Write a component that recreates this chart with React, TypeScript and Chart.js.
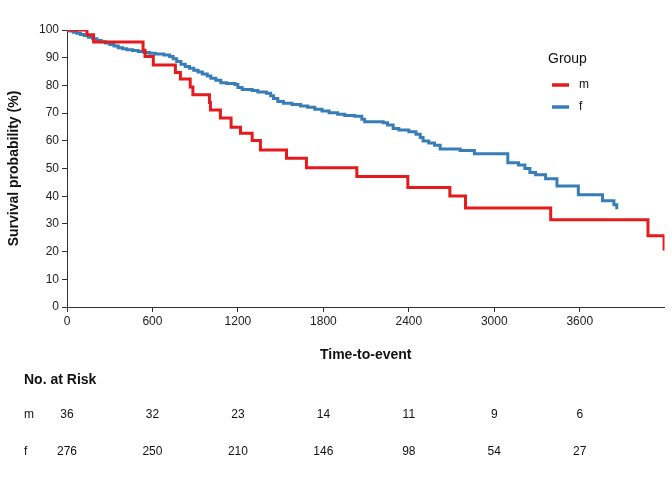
import { useEffect, useRef } from 'react';
import Chart from 'chart.js/auto';

// Kaplan-Meier estimates (time, survival %)
const mTime = [0, 140, 187, 534, 548, 606, 761, 796, 865, 884, 1000, 1007, 1077, 1152, 1218, 1300, 1358, 1541, 1681, 2035, 2393, 2688, 2798, 3396, 4079, 4192];
const mSurv = [100, 98.3, 95.7, 92.7, 90.4, 87.4, 84.7, 82.3, 79.4, 76.6, 73.8, 71.1, 68.2, 64.9, 62.7, 60.1, 56.7, 53.7, 50.3, 47.1, 43.1, 40.1, 35.7, 31.5, 25.7, 20.4];

const fTime = [0, 20, 45, 70, 95, 120, 150, 180, 210, 240, 270, 300, 330, 360, 390, 420, 460, 500, 540, 580, 620, 680, 720, 745, 770, 800, 830, 860, 890, 920, 950, 985, 1010, 1045, 1080, 1120, 1180, 1200, 1230, 1300, 1340, 1400, 1430, 1450, 1480, 1520, 1580, 1640, 1690, 1740, 1790, 1840, 1900, 1950, 2020, 2070, 2090, 2220, 2250, 2290, 2330, 2400, 2450, 2480, 2500, 2540, 2580, 2620, 2760, 2860, 3095, 3170, 3215, 3250, 3290, 3360, 3440, 3590, 3760, 3840, 3860];
const fSurv = [100, 99.6, 99.2, 98.8, 98.4, 98.0, 97.4, 96.8, 96.2, 95.8, 95.3, 94.8, 94.2, 93.6, 93.2, 92.9, 92.6, 92.2, 91.9, 91.6, 91.3, 91.0, 90.4, 89.6, 88.6, 87.6, 86.8, 86.2, 85.5, 84.8, 84.1, 83.4, 82.6, 81.9, 81.0, 80.7, 80.3, 79.2, 78.5, 78.2, 77.6, 77.2, 76.3, 75.3, 74.2, 73.6, 73.1, 72.6, 72.1, 71.4, 70.8, 70.1, 69.6, 69.1, 68.9, 67.8, 66.9, 66.5, 65.7, 64.4, 63.9, 63.3, 62.4, 61.2, 59.9, 59.2, 58.4, 57.0, 56.5, 55.3, 52.1, 51.3, 50.0, 48.6, 47.7, 46.3, 43.7, 40.5, 38.4, 36.9, 35.3];

const xTicks = [0, 600, 1200, 1800, 2400, 3000, 3600];
const groups = ['m', 'f'];
const riskM = [36, 32, 23, 14, 11, 9, 6];
const riskF = [276, 250, 210, 146, 98, 54, 27];

const RED = '#E41A1C';
const BLUE = '#377EB8';
const FONT = "'Liberation Sans', Arial, sans-serif";

const toPoints = (t: number[], s: number[]) => t.map((x, i) => ({ x, y: s[i] }));

// legend + risk table drawn on the canvas
const extrasPlugin = {
  id: 'kmExtras',
  afterDraw(chart: Chart) {
    const { ctx } = chart;
    const xs = chart.scales.x;
    ctx.save();
    ctx.fillStyle = '#111';
    ctx.textBaseline = 'middle';

    // legend
    ctx.font = `14px ${FONT}`;
    ctx.textAlign = 'left';
    ctx.fillText('Group', 548, 59);
    ctx.font = `12px ${FONT}`;
    [RED, BLUE].forEach((c, i) => {
      const y = 85 + i * 22;
      ctx.strokeStyle = c;
      ctx.lineWidth = 3.5;
      ctx.beginPath();
      ctx.moveTo(552, y);
      ctx.lineTo(569, y);
      ctx.stroke();
      ctx.fillText(groups[i], 579, y);
    });

    // risk table
    ctx.font = `bold 14px ${FONT}`;
    ctx.fillText('No. at Risk', 24, 380);
    ctx.font = `12px ${FONT}`;
    [riskM, riskF].forEach((row, r) => {
      const y = 415 + r * 37;
      ctx.textAlign = 'left';
      ctx.fillText(groups[r], 24, y);
      ctx.textAlign = 'center';
      row.forEach((n, i) => ctx.fillText(String(n), xs.getPixelForValue(xTicks[i]), y));
    });
    ctx.restore();
  },
};

const KMChart = () => {
  const chartRef = useRef<HTMLCanvasElement>(null);
  const chartInstance = useRef<Chart<'line'> | null>(null);

  useEffect(() => {
    if (!chartRef.current) return;
    const ctx = chartRef.current.getContext('2d');
    if (!ctx) return;

    if (chartInstance.current) {
      chartInstance.current.destroy();
    }

    chartInstance.current = new Chart(ctx, {
      type: 'line',
      data: {
        datasets: [
          {
            label: 'm',
            data: toPoints(mTime, mSurv),
            borderColor: RED,
            borderWidth: 3,
            stepped: true,
            pointRadius: 0,
            fill: false,
          },
          {
            label: 'f',
            data: toPoints(fTime, fSurv),
            borderColor: BLUE,
            borderWidth: 3,
            stepped: true,
            pointRadius: 0,
            fill: false,
          },
        ],
      },
      options: {
        responsive: true,
        maintainAspectRatio: false,
        animation: false,
        layout: { padding: { left: 6, top: 30, right: 7.5, bottom: 116 } },
        plugins: {
          legend: { display: false },
          tooltip: { enabled: false },
        },
        scales: {
          x: {
            type: 'linear',
            min: 0,
            max: 4195,
            afterBuildTicks: (scale) => {
              scale.ticks = xTicks.map(v => ({ value: v }));
            },
            afterFit: (scale) => {
              scale.height = 57;
            },
            ticks: {
              color: '#222',
              font: { family: FONT, size: 12 },
              padding: 2,
              maxRotation: 0,
              callback: (v) => String(v),
            },
            grid: { display: true, drawOnChartArea: false, drawTicks: true, tickLength: 5, color: '#333' },
            border: { display: true, color: '#333', width: 1 },
            title: {
              display: true,
              text: 'Time-to-event',
              color: '#111',
              font: { family: FONT, size: 14, weight: 'bold' },
              padding: 0,
            },
          },
          y: {
            min: 0,
            max: 100,
            afterFit: (scale) => {
              scale.width = 61;
            },
            ticks: { stepSize: 10, color: '#222', font: { family: FONT, size: 12 }, padding: 3 },
            grid: { display: true, drawOnChartArea: false, drawTicks: true, tickLength: 5, color: '#333' },
            border: { display: true, color: '#333', width: 1 },
            title: {
              display: true,
              text: 'Survival probability (%)',
              color: '#111',
              font: { family: FONT, size: 14, weight: 'bold' },
              padding: 0,
            },
          },
        },
      },
      plugins: [extrasPlugin],
    });

    return () => {
      if (chartInstance.current) {
        chartInstance.current.destroy();
        chartInstance.current = null;
      }
    };
  }, []);

  return <canvas ref={chartRef} />;
};

export default function App() {
  return (
    <div style={{ position: 'fixed', left: 0, top: 0, width: 672, height: 480, background: '#fff' }}>
      <KMChart />
    </div>
  );
}
